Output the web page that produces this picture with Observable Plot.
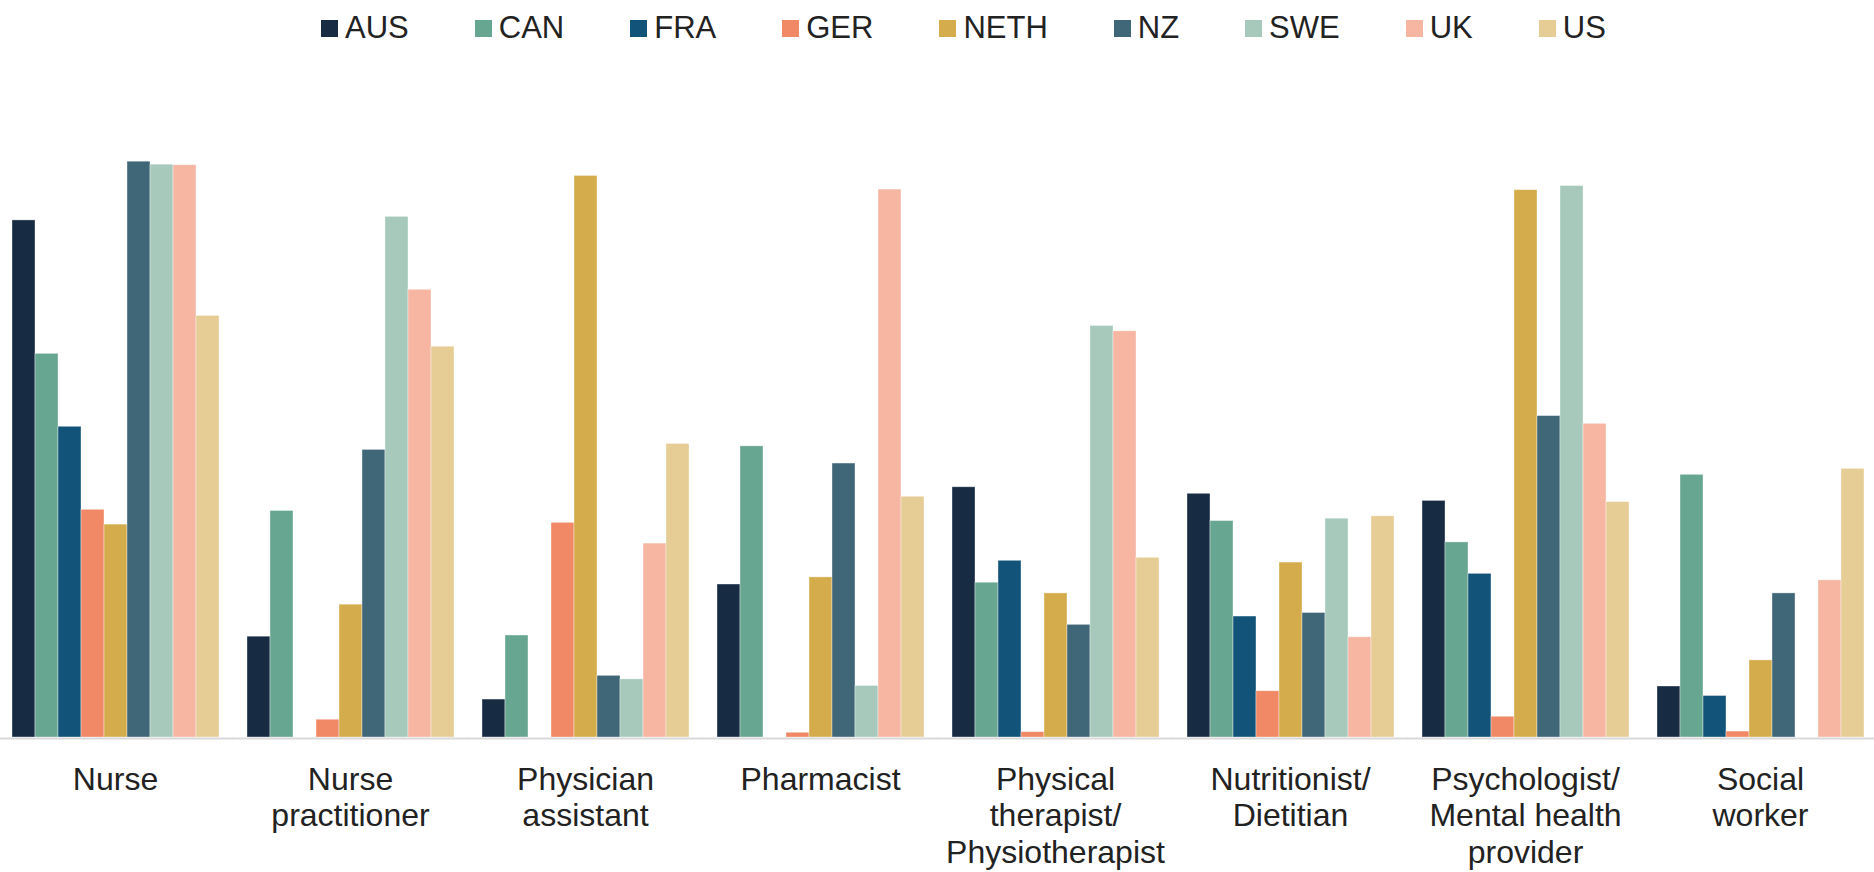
<!DOCTYPE html>
<html>
<head>
<meta charset="utf-8">
<script src="https://cdn.jsdelivr.net/npm/d3@7"></script>
<script src="https://cdn.jsdelivr.net/npm/@observablehq/plot@0.6"></script>
<style>
  body { margin: 0; background: #fff; font-family: "Liberation Sans", Arial, sans-serif; }
  #legend { height: 60px; box-sizing: border-box; padding: 11px 0 0 321px; display: flex; }
  .item { display: flex; align-items: center; height: 34px; line-height: 34px; margin-right: 66px; font-size: 31px; color: #222; white-space: nowrap; }
  .sw { width: 17px; height: 17px; margin-right: 7px; flex: none; }
</style>
</head>
<body>
<div id="legend"></div>
<div id="chart"></div>
<script>
// Categories (facets) and their tick labels
const categories = ["Nurse", "Nurse practitioner", "Physician assistant", "Pharmacist",
  "Physical therapist", "Nutritionist", "Psychologist", "Social worker"];
const tickLabels = ["Nurse", "Nurse\npractitioner", "Physician\nassistant", "Pharmacist",
  "Physical\ntherapist/\nPhysiotherapist", "Nutritionist/\nDietitian",
  "Psychologist/\nMental health\nprovider", "Social\nworker"];

// Series (countries) and colours
const countries = ["AUS", "CAN", "FRA", "GER", "NETH", "NZ", "SWE", "UK", "US"];
const colors = ["#172b43", "#67a691", "#125479", "#f18866", "#d4ac4c", "#406777", "#a6c9bc", "#f6b6a2", "#e6cd95"];

// Values per country, in category order (null = no bar)
const AUS  = [87.2, 17.0,  6.4, 25.8, 42.2, 41.1, 39.9,  8.6];
const CAN  = [64.7, 38.2, 17.2, 49.1, 26.1, 36.5, 32.9, 44.3];
const FRA  = [52.4, null, null, null, 29.8, 20.4, 27.6,  7.0];
const GER  = [38.4,  3.0, 36.2,  0.8,  0.9,  7.8,  3.5,  1.0];
const NETH = [35.9, 22.4, 94.7, 27.0, 24.3, 29.5, 92.3, 13.0];
const NZ   = [97.1, 48.5, 10.4, 46.2, 19.0, 21.0, 54.2, 24.3];
const SWE  = [96.6, 87.8,  9.8,  8.7, 69.4, 36.9, 93.0, null];
const UK   = [96.5, 75.5, 32.7, 92.4, 68.5, 16.9, 52.9, 26.5];
const US   = [71.1, 65.9, 49.5, 40.6, 30.3, 37.3, 39.7, 45.3];

const series = {AUS, CAN, FRA, GER, NETH, NZ, SWE, UK, US};
const data = [];
categories.forEach((cat, i) => {
  countries.forEach(c => {
    const v = series[c][i];
    if (v != null) data.push({category: cat, country: c, value: v});
  });
});
const labelMap = new Map(categories.map((c, i) => [c, tickLabels[i]]));

// Legend (HTML, above the SVG)
const legend = document.getElementById("legend");
countries.forEach((c, i) => {
  const item = document.createElement("div");
  item.className = "item";
  const sw = document.createElement("span");
  sw.className = "sw";
  sw.style.background = colors[i];
  item.appendChild(sw);
  item.appendChild(document.createTextNode(c));
  legend.appendChild(item);
});

const chart = Plot.plot({
  width: 1874,
  height: 812,
  marginTop: 84,
  marginBottom: 135,
  marginLeft: 0,
  marginRight: 0,
  style: {fontFamily: '"Liberation Sans", Arial, sans-serif', background: "white", color: "#222", overflow: "visible"},
  fx: {domain: categories, paddingInner: 0.1, paddingOuter: 0.037, label: null},
  x: {domain: countries, padding: 0, axis: null},
  y: {domain: [0, 100], axis: null},
  color: {domain: countries, range: colors},
  marks: [
    Plot.barY(data, {fx: "category", x: "country", y: "value", fill: "country",
      stroke: "white", strokeWidth: 0.75, strokeOpacity: 0.5}),
    Plot.ruleY([0], {stroke: "#d9d9d9", strokeWidth: 2, dy: 1, insetLeft: -12, insetRight: -12}),
    Plot.axisFx({anchor: "bottom", tickSize: 0, tickPadding: 26, fontSize: 32, lineHeight: 1.15,
      tickFormat: d => labelMap.get(d), label: null})
  ]
});
document.getElementById("chart").appendChild(chart);
</script>
</body>
</html>
